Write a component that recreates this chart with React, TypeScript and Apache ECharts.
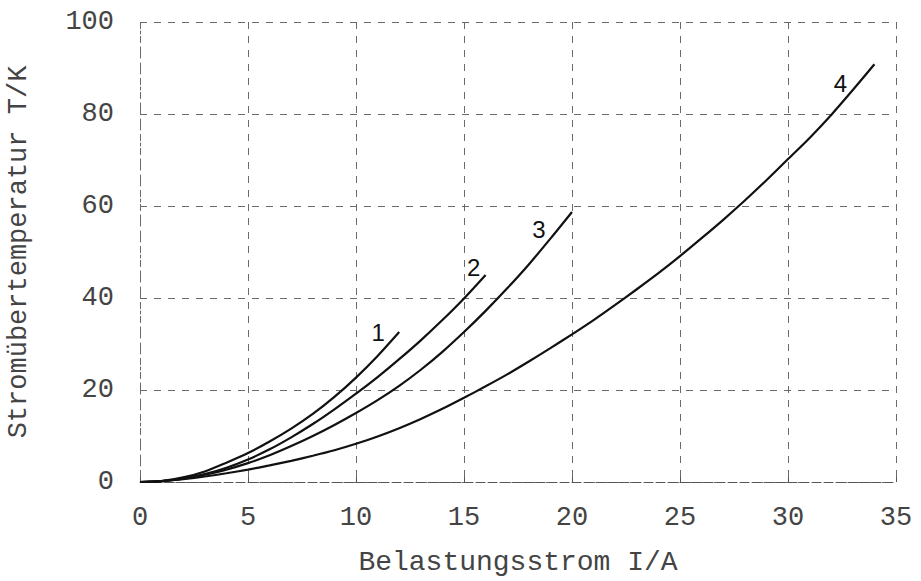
import React, { useEffect, useRef } from "react";
import * as echarts from "echarts";

// Belastungsstrom I/A (x) and Stromübertemperatur T/K (y)
const curve1X = [0, 1, 2, 3, 4, 5, 6, 7, 8, 9, 10, 11, 12];
const curve1Y = [0, 0.2, 1.0, 2.3, 4.2, 6.3, 8.8, 11.6, 14.8, 18.5, 22.7, 27.4, 32.6];

const curve2X = [0, 1, 2, 3, 4, 5, 6, 7, 8, 9, 10, 11, 12, 13, 14, 15, 16];
const curve2Y = [0, 0.2, 0.7, 1.7, 3.1, 4.9, 7.1, 9.7, 12.6, 15.8, 19.2, 22.8, 26.7, 30.8, 35.2, 39.9, 45.0];

const curve3X = [0, 1, 2, 3, 4, 5, 6, 7, 8, 9, 10, 11, 12, 13, 14, 15, 16, 17, 18, 19, 20];
const curve3Y = [0, 0.2, 0.7, 1.6, 2.7, 4.1, 5.8, 7.8, 10.0, 12.4, 15.0, 17.8, 20.9, 24.4, 28.3, 32.6, 37.2, 42.1, 47.3, 52.9, 58.7];

const curve4X = [0, 1, 2, 3, 4, 5, 6, 7, 8, 9, 10, 11, 12, 13, 14, 15, 16, 17, 18, 19, 20, 21, 22, 23, 24, 25, 26, 27, 28, 29, 30, 31, 32, 33, 34];
const curve4Y = [0, 0.2, 0.6, 1.2, 1.9, 2.7, 3.6, 4.6, 5.7, 6.9, 8.3, 9.9, 11.7, 13.7, 15.9, 18.3, 20.8, 23.4, 26.2, 29.1, 32.1, 35.2, 38.5, 41.9, 45.4, 49.1, 53.0, 57.0, 61.2, 65.6, 70.2, 74.8, 79.8, 85.2, 90.8];

const curveNames = ["1", "2", "3", "4"];
const xTicks = [0, 5, 10, 15, 20, 25, 30, 35];
const yTicks = [0, 20, 40, 60, 80, 100];

const xTitle = "Belastungsstrom I/A";
const yTitle = "Stromübertemperatur T/K";

export default function App() {
  const ref = useRef<HTMLDivElement>(null);

  useEffect(() => {
    if (!ref.current) return;
    const chart = echarts.init(ref.current, undefined, { renderer: "svg" });

    const curves = [
      [curve1X, curve1Y],
      [curve2X, curve2Y],
      [curve3X, curve3Y],
      [curve4X, curve4Y],
    ];
    const labelOffsets = [
      [-21, 0],
      [-12, -8],
      [-33, 18],
      [-34, 19],
    ];

    const gridLine = {
      show: true,
      lineStyle: { color: "#6a6a6a", width: 1, type: [7, 7] as number[] },
    };

    const monoFont = "'Liberation Mono', 'DejaVu Sans Mono', monospace";
    const textColor = "#444";

    chart.setOption({
      animation: false,
      backgroundColor: "#ffffff",
      grid: { left: 140, right: 25, top: 22, bottom: 99, containLabel: false, outerBoundsMode: "none" },
      xAxis: {
        type: "value",
        min: xTicks[0],
        max: xTicks[xTicks.length - 1],
        interval: 5,
        name: xTitle,
        nameLocation: "middle",
        nameGap: 66,
        nameTextStyle: { fontFamily: monoFont, fontSize: 28, color: textColor },
        axisLine: { show: true, lineStyle: { color: "#555", width: 1, type: [9, 3] } },
        axisTick: { show: true, inside: true, length: 5, lineStyle: { color: "#555" } },
        axisLabel: { fontFamily: monoFont, fontSize: 27, color: textColor, margin: 22 },
        splitLine: gridLine,
      },
      yAxis: {
        type: "value",
        min: yTicks[0],
        max: yTicks[yTicks.length - 1],
        interval: 20,
        name: yTitle,
        nameLocation: "middle",
        nameGap: 108,
        nameTextStyle: { fontFamily: monoFont, fontSize: 27, color: textColor },
        axisLine: { show: true, lineStyle: { color: "#6a6a6a", width: 1, type: [3, 5] } },
        axisTick: { show: false },
        axisLabel: { fontFamily: monoFont, fontSize: 27, color: textColor, margin: 26 },
        splitLine: gridLine,
      },
      series: curves.map(([xs, ys], i) => {
        const data = xs.map((x, j) => [x, ys[j]]);
        const last = data[data.length - 1];
        return {
          type: "line",
          name: curveNames[i],
          data,
          smooth: 0.3,
          showSymbol: false,
          symbol: "none",
          lineStyle: { color: "#111", width: 2.2 },
          markPoint: {
            symbol: "circle",
            symbolSize: 1,
            itemStyle: { color: "rgba(0,0,0,0)" },
            label: {
              show: true,
              position: "inside",
              offset: labelOffsets[i],
              formatter: curveNames[i],
              fontFamily: "'Liberation Sans', Arial, sans-serif",
              fontSize: 24,
              color: "#111",
            },
            data: [{ coord: last }],
          },
        };
      }),
    });

    return () => chart.dispose();
  }, []);

  return <div ref={ref} style={{ width: 921, height: 581, position: "absolute", left: 0, top: 0 }} />;
}
